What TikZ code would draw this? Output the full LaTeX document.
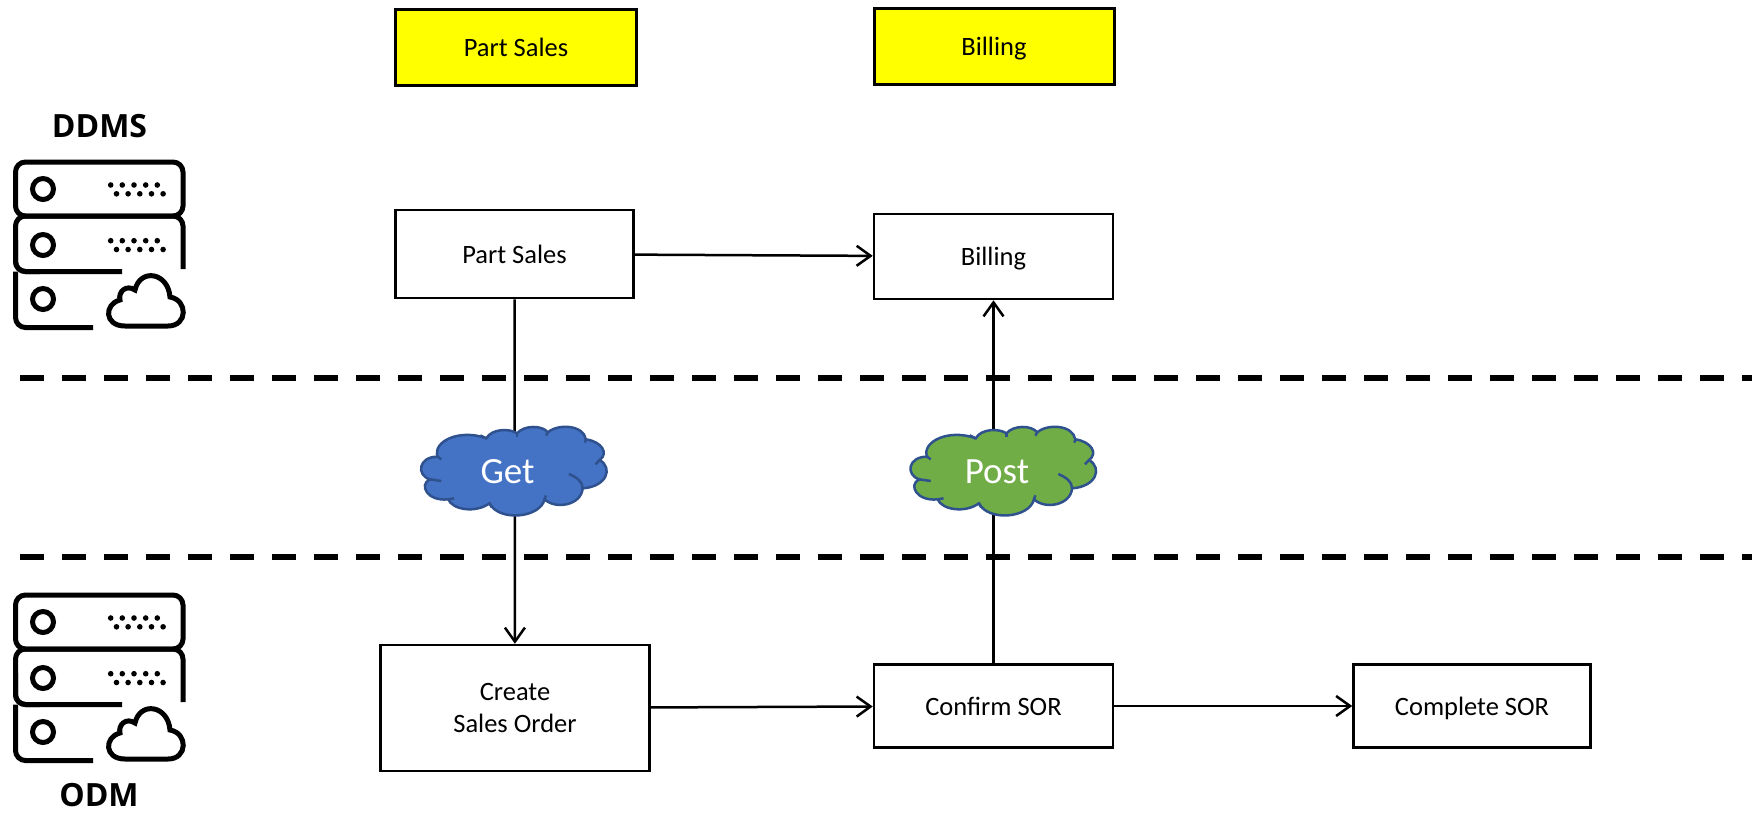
\documentclass[tikz,border=0pt]{standalone}
\usepackage{fontspec}
\setmainfont{Carlito}
\newfontfamily\iconfont{Open Sans}
\usetikzlibrary{arrows.meta}

\definecolor{headyellow}{HTML}{FFFF00}
\definecolor{cloudblue}{HTML}{4472C4}
\definecolor{cloudgreen}{HTML}{70AD47}
\definecolor{cloudline}{HTML}{2F528F}

% server rack with the little cloud, y is the shift down the page
\newcommand{\serverstack}[1]{
  \begin{scope}[shift={(0,#1)},line width=5pt,rounded corners=10pt]
    \draw (15.5,162) rectangle (183,216);
    \draw (183,269) [sharp corners] -- (183,240) [rounded corners=10pt] -- (183,216) -- (15.5,216) -- (15.5,271.5) [sharp corners] -- (122,271.5);
    \draw (15.5,240) -- (15.5,271.5) -- (40,271.5);
    \draw (15.5,271.5) -- (15.5,327.5) -- (93,327.5);
    \draw[sharp corners] (125,326) -- (168,326) .. controls (188,326) and (188,300) .. (170,297)
      .. controls (168,272) and (140,268) .. (135,290) .. controls (126,284) and (118,292) .. (120,300)
      .. controls (104,304) and (104,326) .. (125,326) -- cycle;
    \foreach \ypos in {189,245,299} {
      \draw[line width=5pt] (43,\ypos) circle (10.5pt);
    }
    \foreach \ypos in {185,240.7} {
      \foreach \xpos in {110.7,122.3,134,145.7,157.3} {
        \fill (\xpos,\ypos) circle (2.8pt);
        \fill (\xpos+5.8,\ypos+8.8) circle (2.8pt);
      }
    }
  \end{scope}
}

% cloud outline, traced in its own small units
\newcommand{\puffcloud}[2]{
  \begin{scope}[shift={(#1,400)},x=0.459pt,y=-0.3333pt,line width=2.5pt,draw=cloudline]
    \filldraw[fill=#2] (82,170) .. controls (70,125) and (130,85) .. (188,115)
      .. controls (200,85) and (240,85) .. (255,100)
      .. controls (270,75) and (310,75) .. (322,97)
      .. controls (345,70) and (400,75) .. (405,118)
      .. controls (440,125) and (455,160) .. (435,180)
      .. controls (465,205) and (450,260) .. (398,265)
      .. controls (395,315) and (340,330) .. (315,298)
      .. controls (305,355) and (215,365) .. (195,310)
      .. controls (165,340) and (115,330) .. (105,298)
      .. controls (60,305) and (40,255) .. (65,238)
      .. controls (35,225) and (40,170) .. (82,170) -- cycle;
    \draw (82,170) -- (90,178);
    \draw (188,115) -- (175,106);
    \draw (255,100) -- (255,110);
    \draw (322,97) -- (318,107);
    \draw (405,118) -- (403,128);
    \draw (435,180) -- (426,193);
    \draw (368,222) .. controls (385,232) and (398,245) .. (398,265);
    \draw (315,298) -- (318,286);
    \draw (195,310) -- (200,322);
    \draw (105,298) -- (118,295);
    \draw (65,238) -- (90,243);
  \end{scope}
}

\begin{document}
\begin{tikzpicture}[x=1pt,y=-1pt]
  \tikzset{boxnode/.style={draw, line width=2.5pt, inner sep=0pt, font=\fontsize{26.5}{29}\selectfont, align=center}}
  \tikzset{oneline/.style={boxnode, text height=18pt, text depth=0pt}}
  \tikzset{headnode/.style={oneline, fill=headyellow, line width=3pt}}
  \tikzset{cloudtext/.style={text=white, inner sep=0pt, font=\fontsize{37}{40}\selectfont}}
  \tikzset{sidetext/.style={inner sep=0pt, font=\iconfont\fontsize{32}{36}\selectfont\bfseries}}
  \tikzset{flow/.style={-{Straight Barb[length=14pt,width=20pt]}, line width=2.5pt}}
  \tikzset{lane/.style={dashed, dash pattern=on 24pt off 18pt, line width=5.5pt}}
  \useasboundingbox (0,0) rectangle (1752,812);

  \node[headnode, minimum width=240.5pt, minimum height=76pt] (HEADPS) at (516,47) {Part Sales};
  \node[headnode, minimum width=240pt, minimum height=76pt] (HEADBILL) at (994,46) {Billing};

  \node[oneline, minimum width=238pt, minimum height=88pt] (PS) at (514.5,254) {Part Sales};
  \node[oneline, minimum width=239pt, minimum height=85pt] (BILL) at (993.5,256.5) {Billing};
  \node[boxnode, minimum width=269pt, minimum height=126pt] (CREATE) at (515,708) {Create\\[3pt]Sales Order};
  \node[oneline, minimum width=239pt, minimum height=83pt] (CONFIRM) at (993.5,706) {Confirm SOR};
  \node[oneline, minimum width=237pt, minimum height=83pt] (COMPLETE) at (1472,706) {Complete SOR};

  \coordinate (L1A) at (20,378);
  \coordinate (L1B) at (1752,378);
  \coordinate (L2A) at (20,557);
  \coordinate (L2B) at (1752,557);
  \draw[lane] (L1A) -- (L1B);
  \draw[lane] (L2A) -- (L2B);

  \draw[flow] (PS) -- (BILL);
  \draw[flow] (PS) -- (CREATE);
  \draw[flow] (CONFIRM) -- (BILL);
  \draw[flow] (CREATE) -- (CONFIRM);
  \draw[flow] (CONFIRM) -- (COMPLETE);

  \puffcloud{400}{cloudblue}
  \puffcloud{889.4}{cloudgreen}
  \node[cloudtext] (GET) at (507.5,472) {Get};
  \node[cloudtext] (POST) at (997,472) {Post};

  \node[sidetext] (DDMS) at (99.5,126) {DDMS};
  \node[sidetext] (ODM) at (99,795.5) {ODM};
  \serverstack{0}
  \serverstack{433}
\end{tikzpicture}
\end{document}
